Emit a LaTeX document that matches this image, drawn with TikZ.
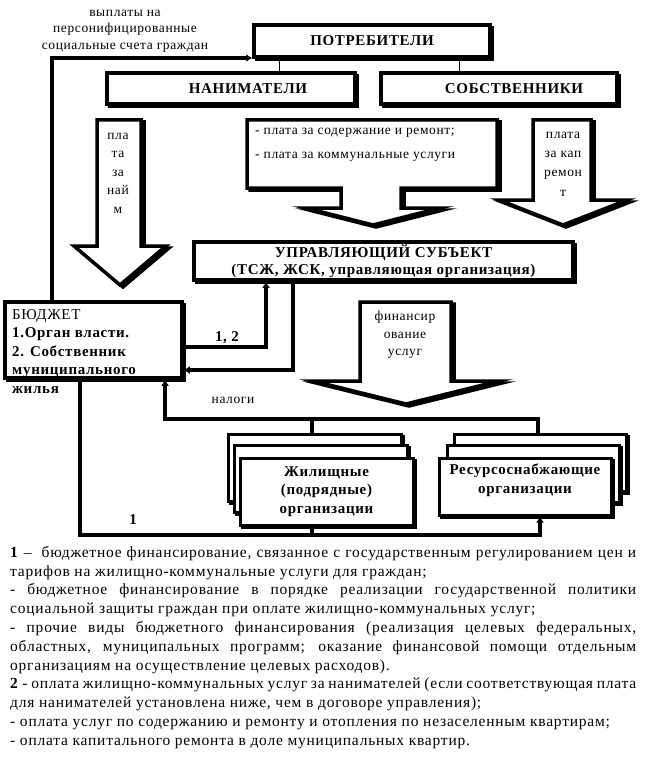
\documentclass[tikz,border=0pt]{standalone}
\usepackage{fontspec}
\setmainfont{Liberation Serif}[LetterSpace=4.5]
\newfontfamily\legfont{Liberation Serif}[LetterSpace=5]
\usetikzlibrary{shadows,arrows.meta,calc}
\begin{document}
\begin{tikzpicture}[x=1pt,y=-1pt,
  shad/.style={general shadow={draw=black,fill=black,line width=3.5pt,shadow xshift=2.5pt,shadow yshift=-2.5pt}},
  box/.style={draw,line width=3.5pt,fill=white,inner sep=0pt,shad,align=center,
    font=\bfseries\fontsize{15}{17}\selectfont},
  sbox/.style={draw,line width=3pt,fill=white,inner sep=0pt,align=center,
    general shadow={draw=black,fill=black,line width=3pt,shadow xshift=2pt,shadow yshift=-2pt},
    font=\bfseries\fontsize{15}{18.5}\selectfont},
  barrow/.style={draw,line width=3.5pt,fill=white,line join=miter,
    general shadow={draw=black,fill=black,line width=3.5pt,shadow xshift=3pt,shadow yshift=-2pt}},
  conn/.style={line width=3.5pt,line join=miter},
  tip/.style={-{Latex[length=6pt,width=8pt]}},
  thinl/.style={line width=0.8pt},
  small/.style={inner sep=0pt,align=center,font=\fontsize{13.5}{18.5}\selectfont},
  lbl/.style={inner sep=0pt,font=\bfseries\fontsize{15}{17}\selectfont},
]
\fill[white] (0,0) rectangle (647,757);
\useasboundingbox (0,0) rectangle (647,757);

% block arrows
\draw[barrow] (97,120) -- (141,120) -- (141,246) -- (166,246) -- (120,285) -- (74,246) -- (97,246) -- cycle;
\draw[barrow] (247,120) -- (497,120) -- (497,188) -- (401,188) -- (401,208) -- (440,208) -- (373,225) -- (306,208) -- (341,208) -- (341,188) -- (247,188) -- cycle;
\draw[barrow] (533,120) -- (591,120) -- (591,200) -- (627,200) -- (563,225) -- (499,200) -- (533,200) -- cycle;
\draw[barrow] (360,302) -- (451,302) -- (451,381) -- (499,381) -- (406,404) -- (313,381) -- (360,381) -- cycle;

% texts in block arrows
\node[small] (tnaim) at (118,173) {пла\\та\\за\\най\\м};
\node[inner sep=0pt,align=left,anchor=west,font=\fontsize{13.5}{24}\selectfont] (tsod) at (255,145) {- плата за содержание и ремонт;\\- плата за коммунальные услуги};
\node[small,font=\fontsize{13.5}{19.3}\selectfont] (tkap) at (563,164) {плата\\за кап\\ремон\\т};
\node[small,font=\fontsize{13.5}{17.5}\selectfont] (tfin) at (405,335) {финансир\\ование\\услуг};
\node[small,font=\fontsize{13.5}{16.5}\selectfont] (tvyp) at (125,31) {выплаты на\\персонифицированные\\социальные счета граждан};

% boxes
\node[box,minimum width=236,minimum height=32] (potr) at (372,41) {ПОТРЕБИТЕЛИ};
\node[box,minimum width=248,minimum height=31] (nanim) at (231,88.5) {\hspace*{34pt}НАНИМАТЕЛИ};
\node[box,minimum width=236,minimum height=31] (sobst) at (499,88.5) {\hspace*{30pt}СОБСТВЕННИКИ};
\node[box,minimum width=379,minimum height=38] (upr) at (383.5,261) {УПРАВЛЯЮЩИЙ СУБЪЕКТ\\(ТСЖ, ЖСК, управляющая организация)};
\node[box,minimum width=177,minimum height=76] (budg) at (93.5,340) {};
\node[anchor=north west,inner sep=0pt,align=left,font=\fontsize{15}{18.5}\selectfont] (budtxt) at (12,309) {БЮДЖЕТ\\\textbf{1.Орган власти.}\\\textbf{2. Собственник}\\\textbf{муниципального}\\\textbf{жилья}};
\draw[line width=3.5pt] (budg.south west) ++(1.75,-1.75) rectangle ($(budg.north east)+(-1.75,1.75)$);

% housing organisations (stack)
\node[sbox,minimum width=173,minimum height=67] (zb) at (314.5,467.5) {};
\node[sbox,minimum width=173,minimum height=67] (zm) at (320.5,478.5) {};
\node[sbox,minimum width=173,minimum height=67] (zf) at (326.5,491.5) {Жилищные\\(подрядные)\\организации};
% resource organisations (stack)
\node[sbox,minimum width=172,minimum height=57] (rb) at (540,462.5) {};
\node[sbox,minimum width=172,minimum height=57] (rm) at (533,473.5) {};
\node[sbox,minimum width=172,minimum height=57] (rf) at (525,486.5) {};
\node[inner sep=0pt,align=center,font=\bfseries\fontsize{15}{19}\selectfont] (rtxt) at (525,480) {Ресурсоснабжающие\\организации};

% thin connectors
\coordinate (k1) at (279,0);
\coordinate (k2) at (459,0);
\draw[thinl] (k1 |- potr.south) -- (k1 |- nanim.north);
\draw[thinl] (k2 |- potr.south) -- (k2 |- sobst.north);

% payments to personal accounts
\coordinate (c1) at (52,58);
\draw[conn,tip] (budg.north -| c1) -- (c1) -- (c1 -| potr.west);

% 1, 2
\coordinate (c12) at (266,347);
\draw[conn,tip] (c12 -| budg.east) -- (c12) -- (c12 |- upr.south);
\node[lbl] (l12) at (227,338) {1, 2};

% from managing subject back to budget
\coordinate (c3) at (293,370);
\draw[conn,tip] (c3 |- upr.south) -- (c3) -- (c3 -| budg.east);

% taxes
\coordinate (n1) at (165,419);
\coordinate (n2) at (538,419);
\coordinate (n3) at (312,419);
\draw[conn,tip] (n2 |- rb.north) -- (n2) -- (n1) -- (n1 |- budg.south);
\draw[conn] (n3) -- (n3 |- zb.north);
\node[small] (lnal) at (233,400) {налоги};

% 1
\coordinate (b1) at (80,535);
\coordinate (b2) at (540,535);
\coordinate (b3) at (312,535);
\draw[conn,tip] (b1 |- budg.south) -- (b1) -- (b2) -- (b2 |- rf.south);
\draw[conn] (b3) -- (b3 |- zf.south);
\node[lbl] (l1) at (133,520) {1};

% legend
\node[anchor=north west,inner sep=0pt,align=left,font=\legfont\fontsize{15.5}{18.8}\selectfont] (legend) at (10,546) {%
\makebox[626pt][s]{\textbf{1} –\ \ бюджетное финансирование, связанное с государственным регулированием цен и}\\
тарифов на жилищно-коммунальные услуги для граждан;\\
\makebox[626pt][s]{- бюджетное финансирование в порядке реализации государственной политики}\\
социальной защиты граждан при оплате жилищно-коммунальных услуг;\\
\makebox[626pt][s]{- прочие виды бюджетного финансирования (реализация целевых федеральных,}\\
\makebox[626pt][s]{областных, муниципальных программ; оказание финансовой помощи отдельным}\\
организациям на осуществление целевых расходов).\\
\makebox[626pt][s]{\textbf{2} - оплата жилищно-коммунальных услуг за нанимателей (если соответствующая плата}\\
для нанимателей установлена ниже, чем в договоре управления);\\
- оплата услуг по содержанию и ремонту и отопления по незаселенным квартирам;\\
- оплата капитального ремонта в доле муниципальных квартир.};
\end{tikzpicture}
\end{document}
